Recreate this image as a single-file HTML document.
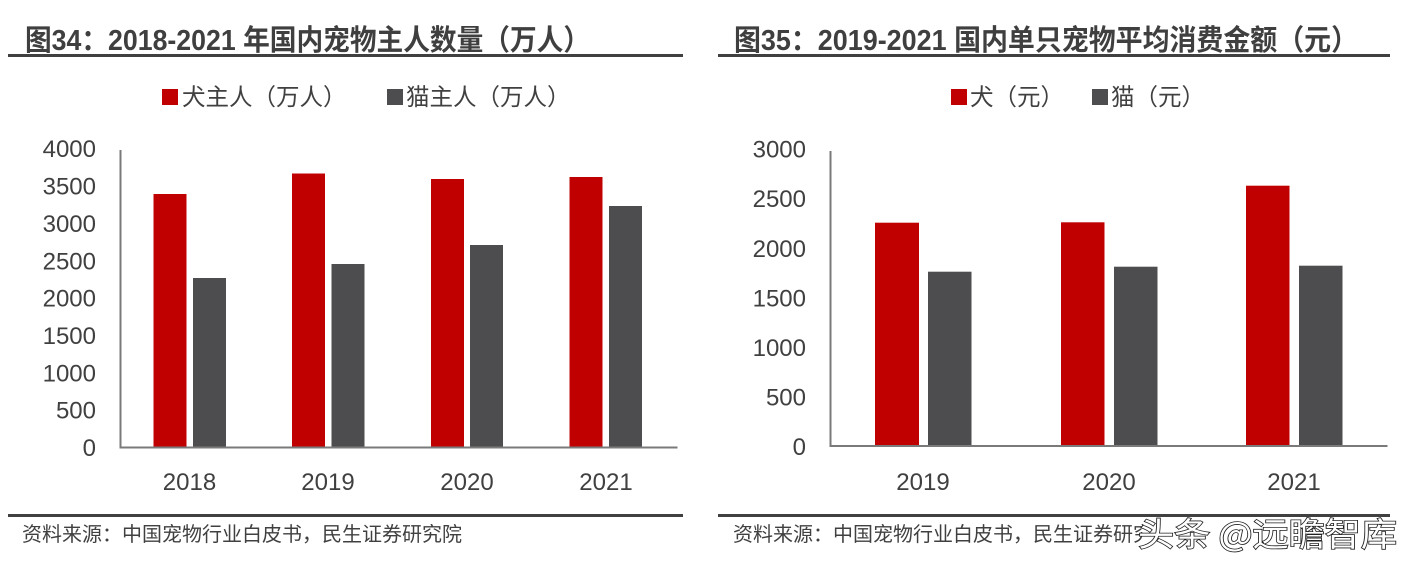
<!DOCTYPE html>
<html>
<head>
<meta charset="utf-8">
<style>
  html, body { margin:0; padding:0; background:#fff; }
  body { width:1415px; height:571px; overflow:hidden; }
  svg { display:block; }
  .t { font-family:"Liberation Sans","Noto Sans CJK SC",sans-serif; fill:#404040; }
  .title { font-weight:bold; font-size:29px; fill:#3f3f3f; }
  .leg { font-size:23.5px; }
  .tick { font-size:24px; }
  .foot { font-size:20px; }
</style>
</head>
<body>
<svg width="1415" height="571" viewBox="0 0 1415 571" xmlns="http://www.w3.org/2000/svg">
  <rect width="1415" height="571" fill="#fff"/>

  <!-- ================= LEFT CHART ================= -->
  <text class="t title" x="25" y="50" textLength="565" lengthAdjust="spacingAndGlyphs">图34：2018-2021 年国内宠物主人数量（万人）</text>
  <rect x="8" y="54" width="675" height="3" fill="#404040"/>

  <!-- legend -->
  <rect x="162" y="89" width="16" height="16" fill="#C00000"/>
  <text class="t leg" x="182" y="105">犬主人（万人）</text>
  <rect x="387" y="89" width="16" height="16" fill="#4D4D4F"/>
  <text class="t leg" x="406" y="105">猫主人（万人）</text>

  <!-- y tick labels -->
  <g class="t tick" text-anchor="end">
    <text x="96" y="157">4000</text>
    <text x="96" y="194.5">3500</text>
    <text x="96" y="232">3000</text>
    <text x="96" y="269.5">2500</text>
    <text x="96" y="306.5">2000</text>
    <text x="96" y="344">1500</text>
    <text x="96" y="381.5">1000</text>
    <text x="96" y="418.5">500</text>
    <text x="96" y="456">0</text>
  </g>

  <!-- bars -->
  <g fill="#C00000">
    <rect x="153.5" y="194" width="33" height="253.5"/>
    <rect x="292" y="173.5" width="33" height="274"/>
    <rect x="431" y="179" width="33" height="268.5"/>
    <rect x="569.5" y="177" width="33" height="270.5"/>
  </g>
  <g fill="#4D4D4F">
    <rect x="193" y="278" width="33" height="169.5"/>
    <rect x="331.5" y="264" width="33" height="183.5"/>
    <rect x="470" y="245" width="33" height="202.5"/>
    <rect x="609" y="206" width="33" height="241.5"/>
  </g>

  <!-- axes -->
  <rect x="119.5" y="150" width="2" height="298" fill="#7a7a7a"/>
  <rect x="119.5" y="446.5" width="558" height="2" fill="#7a7a7a"/>

  <!-- category labels -->
  <g class="t tick" text-anchor="middle">
    <text x="189.5" y="490">2018</text>
    <text x="328" y="490">2019</text>
    <text x="467" y="490">2020</text>
    <text x="606" y="490">2021</text>
  </g>

  <rect x="8" y="514" width="675" height="3" fill="#404040"/>
  <text class="t foot" x="22" y="541">资料来源：中国宠物行业白皮书，民生证券研究院</text>

  <!-- ================= RIGHT CHART ================= -->
  <text class="t title" x="734" y="50" textLength="624" lengthAdjust="spacingAndGlyphs">图35：2019-2021 国内单只宠物平均消费金额（元）</text>
  <rect x="718" y="54" width="672" height="3" fill="#404040"/>

  <!-- legend -->
  <rect x="951" y="89" width="16" height="16" fill="#C00000"/>
  <text class="t leg" x="970" y="105">犬（元）</text>
  <rect x="1092" y="89" width="16" height="16" fill="#4D4D4F"/>
  <text class="t leg" x="1111" y="105">猫（元）</text>

  <!-- y tick labels -->
  <g class="t tick" text-anchor="end">
    <text x="806" y="157.5">3000</text>
    <text x="806" y="207">2500</text>
    <text x="806" y="257">2000</text>
    <text x="806" y="306.5">1500</text>
    <text x="806" y="356">1000</text>
    <text x="806" y="405.5">500</text>
    <text x="806" y="455">0</text>
  </g>

  <!-- bars -->
  <g fill="#C00000">
    <rect x="875" y="222.7" width="44" height="223.3"/>
    <rect x="1061" y="222.3" width="43.5" height="223.7"/>
    <rect x="1246" y="185.7" width="43.5" height="260.3"/>
  </g>
  <g fill="#4D4D4F">
    <rect x="928" y="271.7" width="43.5" height="174.3"/>
    <rect x="1114" y="266.7" width="43.5" height="179.3"/>
    <rect x="1299" y="265.7" width="43.5" height="180.3"/>
  </g>

  <!-- axes -->
  <rect x="829.5" y="151" width="2" height="296" fill="#7a7a7a"/>
  <rect x="829.5" y="445" width="558" height="2" fill="#7a7a7a"/>

  <!-- category labels -->
  <g class="t tick" text-anchor="middle">
    <text x="923" y="490">2019</text>
    <text x="1109" y="490">2020</text>
    <text x="1294" y="490">2021</text>
  </g>

  <rect x="718" y="514" width="672" height="3" fill="#404040"/>
  <text class="t foot" x="733" y="541">资料来源：中国宠物行业白皮书，民生证券研究院</text>

  <!-- watermark -->
  <rect x="1146" y="518" width="269" height="40" fill="#fff"/>
  <text x="1138" y="546" font-family="'Noto Sans CJK SC','WenQuanYi Zen Hei',sans-serif" font-size="33" fill="#fff" stroke="#222" stroke-width="1.6" paint-order="stroke" textLength="259" lengthAdjust="spacingAndGlyphs">头条 @远瞻智库</text>
</svg>
</body>
</html>
